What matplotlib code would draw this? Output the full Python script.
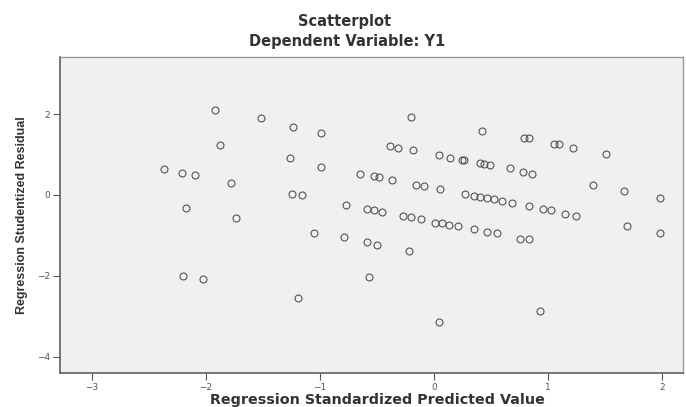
import matplotlib
matplotlib.use('Agg')
import matplotlib.pyplot as plt

# predicted (standardized) vs studentized residual
pred = [-1.92, -1.52, -1.24, -0.99, -1.88, -0.20, 0.42, 0.79, 0.83, 1.05,
        1.09, 1.22, 1.51, -0.39, -0.32, -0.19, 0.04, 0.14, 0.24, 0.26,
        0.40, 0.44, 0.49, 0.66, 0.78, 0.86, -1.26, -0.99, -2.37, -2.21,
        -2.10, -1.78, -0.65, -0.53, -0.48, -0.37, -0.16, -0.09, 0.05, -1.25,
        -1.16, 0.27, 0.35, 0.40, 0.46, 0.52, 0.59, 0.68, 0.83, 0.95,
        1.02, 1.15, 1.24, 1.39, 1.66, 1.98, -2.18, -0.77, -0.59, -0.53,
        -0.46, -0.27, -0.20, -0.12, 0.01, 0.07, 0.13, 0.21, 0.35, 0.46,
        0.55, 0.75, 0.83, 1.69, 1.98, -1.74, -1.05, -0.79, -0.59, -0.50,
        -0.22, -2.20, -2.03, -0.57, -1.19, 0.04, 0.93]
resid = [2.10, 1.90, 1.67, 1.53, 1.24, 1.93, 1.59, 1.40, 1.40, 1.25,
         1.25, 1.16, 1.01, 1.21, 1.16, 1.11, 0.98, 0.91, 0.87, 0.86,
         0.78, 0.76, 0.73, 0.67, 0.57, 0.52, 0.91, 0.70, 0.64, 0.55,
         0.49, 0.30, 0.52, 0.46, 0.44, 0.38, 0.25, 0.22, 0.14, 0.03,
         -0.01, 0.02, -0.02, -0.04, -0.07, -0.11, -0.14, -0.21, -0.28, -0.35,
         -0.38, -0.46, -0.51, 0.24, 0.10, -0.08, -0.31, -0.25, -0.35, -0.38,
         -0.42, -0.51, -0.54, -0.59, -0.68, -0.70, -0.73, -0.77, -0.84, -0.91,
         -0.94, -1.10, -1.09, -0.77, -0.93, -0.56, -0.94, -1.04, -1.15, -1.24,
         -1.39, -2.00, -2.07, -2.03, -2.55, -3.14, -2.86]

xticks = [-3, -2, -1, 0, 1, 2]
yticks = [-4, -2, 0, 2]

fig = plt.figure(figsize=(6.86, 4.07), dpi=100)
ax = fig.add_axes([0.0875, 0.0835, 0.908, 0.7764])
ax.set_facecolor('#f0f0f0')

ax.plot(pred, resid, linestyle='none', marker='o', markersize=5,
        markerfacecolor='none', markeredgecolor='#555555', markeredgewidth=0.8)

ax.set_xlim(-3.28, 2.18)
ax.set_ylim(-4.40, 3.41)
ax.set_xticks(xticks)
ax.set_yticks(yticks)
ax.tick_params(axis='both', direction='out', length=5, width=0.8,
               color='#555555', labelcolor='#555555', labelsize=6.5, pad=2)
for side in ['top', 'right']:
    ax.spines[side].set_color('#9a9a9a')
    ax.spines[side].set_linewidth(1.0)
for side in ['left', 'bottom']:
    ax.spines[side].set_color('#606060')
    ax.spines[side].set_linewidth(1.2)

fig.text(0.503, 0.946, 'Scatterplot', ha='center', va='center',
         fontsize=10.5, fontweight='bold', color='#333333', family='DejaVu Sans')
fig.text(0.506, 0.899, 'Dependent Variable: Y1', ha='center', va='center',
         fontsize=10.5, fontweight='bold', color='#333333', family='DejaVu Sans')
fig.text(0.55, 0.016, 'Regression Standardized Predicted Value', ha='center',
         va='center', fontsize=10.3, fontweight='bold', color='#333333',
         family='DejaVu Sans')
fig.text(0.032, 0.472, 'Regression Studentized Residual', ha='center',
         va='center', rotation=90, fontsize=9, fontweight='bold',
         color='#333333', family='Liberation Sans')

fig.savefig('out.png', dpi=100)
